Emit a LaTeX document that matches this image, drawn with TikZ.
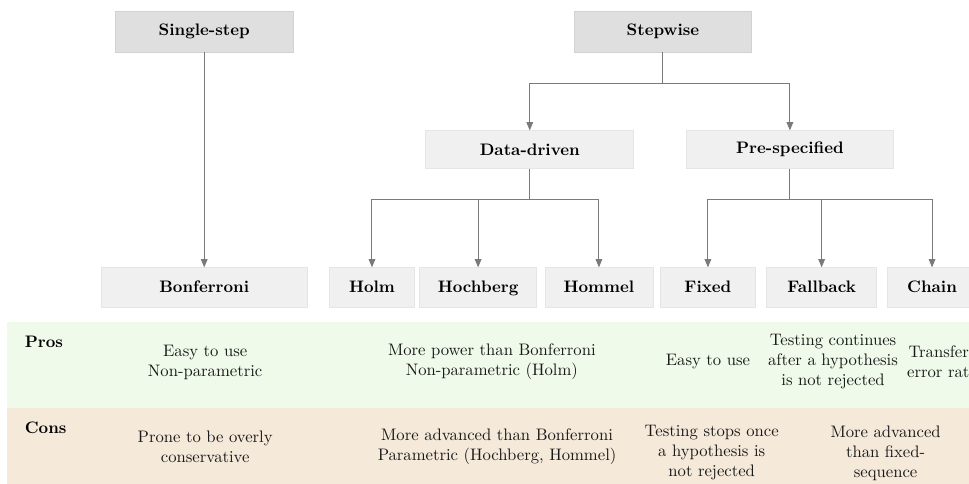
\documentclass[tikz,border=0pt]{standalone}
\usetikzlibrary{arrows.meta}
\definecolor{prosgreen}{HTML}{F0FAEA}
\definecolor{consbeige}{HTML}{F5E9DA}
\definecolor{linegray}{HTML}{7A7A7A}

\begin{document}
\begin{tikzpicture}[
        topbox/.style={fill=gray!25, draw=gray!35, minimum height=0.86cm, font=\bfseries},
        midbox/.style={fill=gray!12, draw=gray!20, minimum height=0.80cm, font=\bfseries},
        leafbox/.style={fill=gray!12, draw=gray!20, minimum height=0.84cm, font=\bfseries,
            text height=1.6ex, text depth=0.3ex},
        conn/.style={draw=linegray, line width=0.6pt, -{Triangle[length=5pt,width=4pt]}},
        cell/.style={align=center, text=black!90}
    ]
        \useasboundingbox (0,0) rectangle (20.45,10.21);
        \clip (0,0) rectangle (20.45,10.21);
        % pros / cons bands
        \fill[prosgreen] (0.15,1.60) rectangle (20.45,3.42);
        \fill[consbeige] (0.15,0) rectangle (20.45,1.60);
        % tree
        \node[topbox, minimum width=3.76cm] (single) at (4.31,9.54) {Single-step};
        \node[topbox, minimum width=3.73cm] (stepwise) at (13.99,9.54) {Stepwise};
        \node[midbox, minimum width=4.39cm] (datadriven) at (11.18,7.05) {Data-driven};
        \node[midbox, minimum width=4.37cm] (prespec) at (16.67,7.05) {Pre-specified};
        \node[leafbox, minimum width=4.35cm] (bonf) at (4.31,4.14) {Bonferroni};
        \node[leafbox, minimum width=1.79cm] (holm) at (7.85,4.14) {Holm};
        \node[leafbox, minimum width=2.47cm] (hoch) at (10.09,4.14) {Hochberg};
        \node[leafbox, minimum width=2.28cm] (hommel) at (12.64,4.14) {Hommel};
        \node[leafbox, minimum width=2.00cm] (fixed) at (14.94,4.14) {Fixed};
        \node[leafbox, minimum width=2.32cm] (fallback) at (17.34,4.14) {Fallback};
        \node[leafbox, minimum width=1.90cm] (chain) at (19.67,4.14) {Chain};
        \draw[conn] (single) -- (bonf);
        \draw[conn] (stepwise.south) -- ++(0,-0.65) -| (datadriven.north);
        \draw[conn] (stepwise.south) -- ++(0,-0.65) -| (prespec.north);
        \draw[conn] (datadriven.south) -- ++(0,-0.64) -| (holm.north);
        \draw[conn] (datadriven.south) -- ++(0,-0.64) -| (hoch.north);
        \draw[conn] (datadriven.south) -- ++(0,-0.64) -| (hommel.north);
        \draw[conn] (prespec.south) -- ++(0,-0.64) -| (fixed.north);
        \draw[conn] (prespec.south) -- ++(0,-0.64) -| (fallback.north);
        \draw[conn] (prespec.south) -- ++(0,-0.64) -| (chain.north);
        % pros
        \node[font=\bfseries, anchor=west] (pros) at (0.40,3.00) {Pros};
        \node[cell] (bonfpro) at (4.33,2.57) {Easy to use\\Non-parametric};
        \node[cell] (ddpro) at (10.38,2.57) {More power than Bonferroni\\Non-parametric (Holm)};
        \node[cell] (fixedpro) at (14.94,2.57) {Easy to use};
        \node[cell] (fallbackpro) at (17.58,2.57) {Testing continues\\after a hypothesis\\is not rejected};
        \node[cell] (chainpro) at (19.88,2.57) {Transfers\\error rate};
        % cons
        \node[font=\bfseries, anchor=west] (cons) at (0.40,1.18) {Cons};
        \node[cell] (bonfcon) at (4.33,0.78) {Prone to be overly\\conservative};
        \node[cell] (ddcon) at (10.49,0.78) {More advanced than Bonferroni\\Parametric (Hochberg, Hommel)};
        \node[cell] (fixedcon) at (15.02,0.65) {Testing stops once\\a hypothesis is\\not rejected};
        \node[cell] (fallbackcon) at (18.69,0.65) {More advanced\\than fixed-\\sequence};
        % \node[cell] (chaincon) at (19.88,0.78) {};
    \end{tikzpicture}
\end{document}
